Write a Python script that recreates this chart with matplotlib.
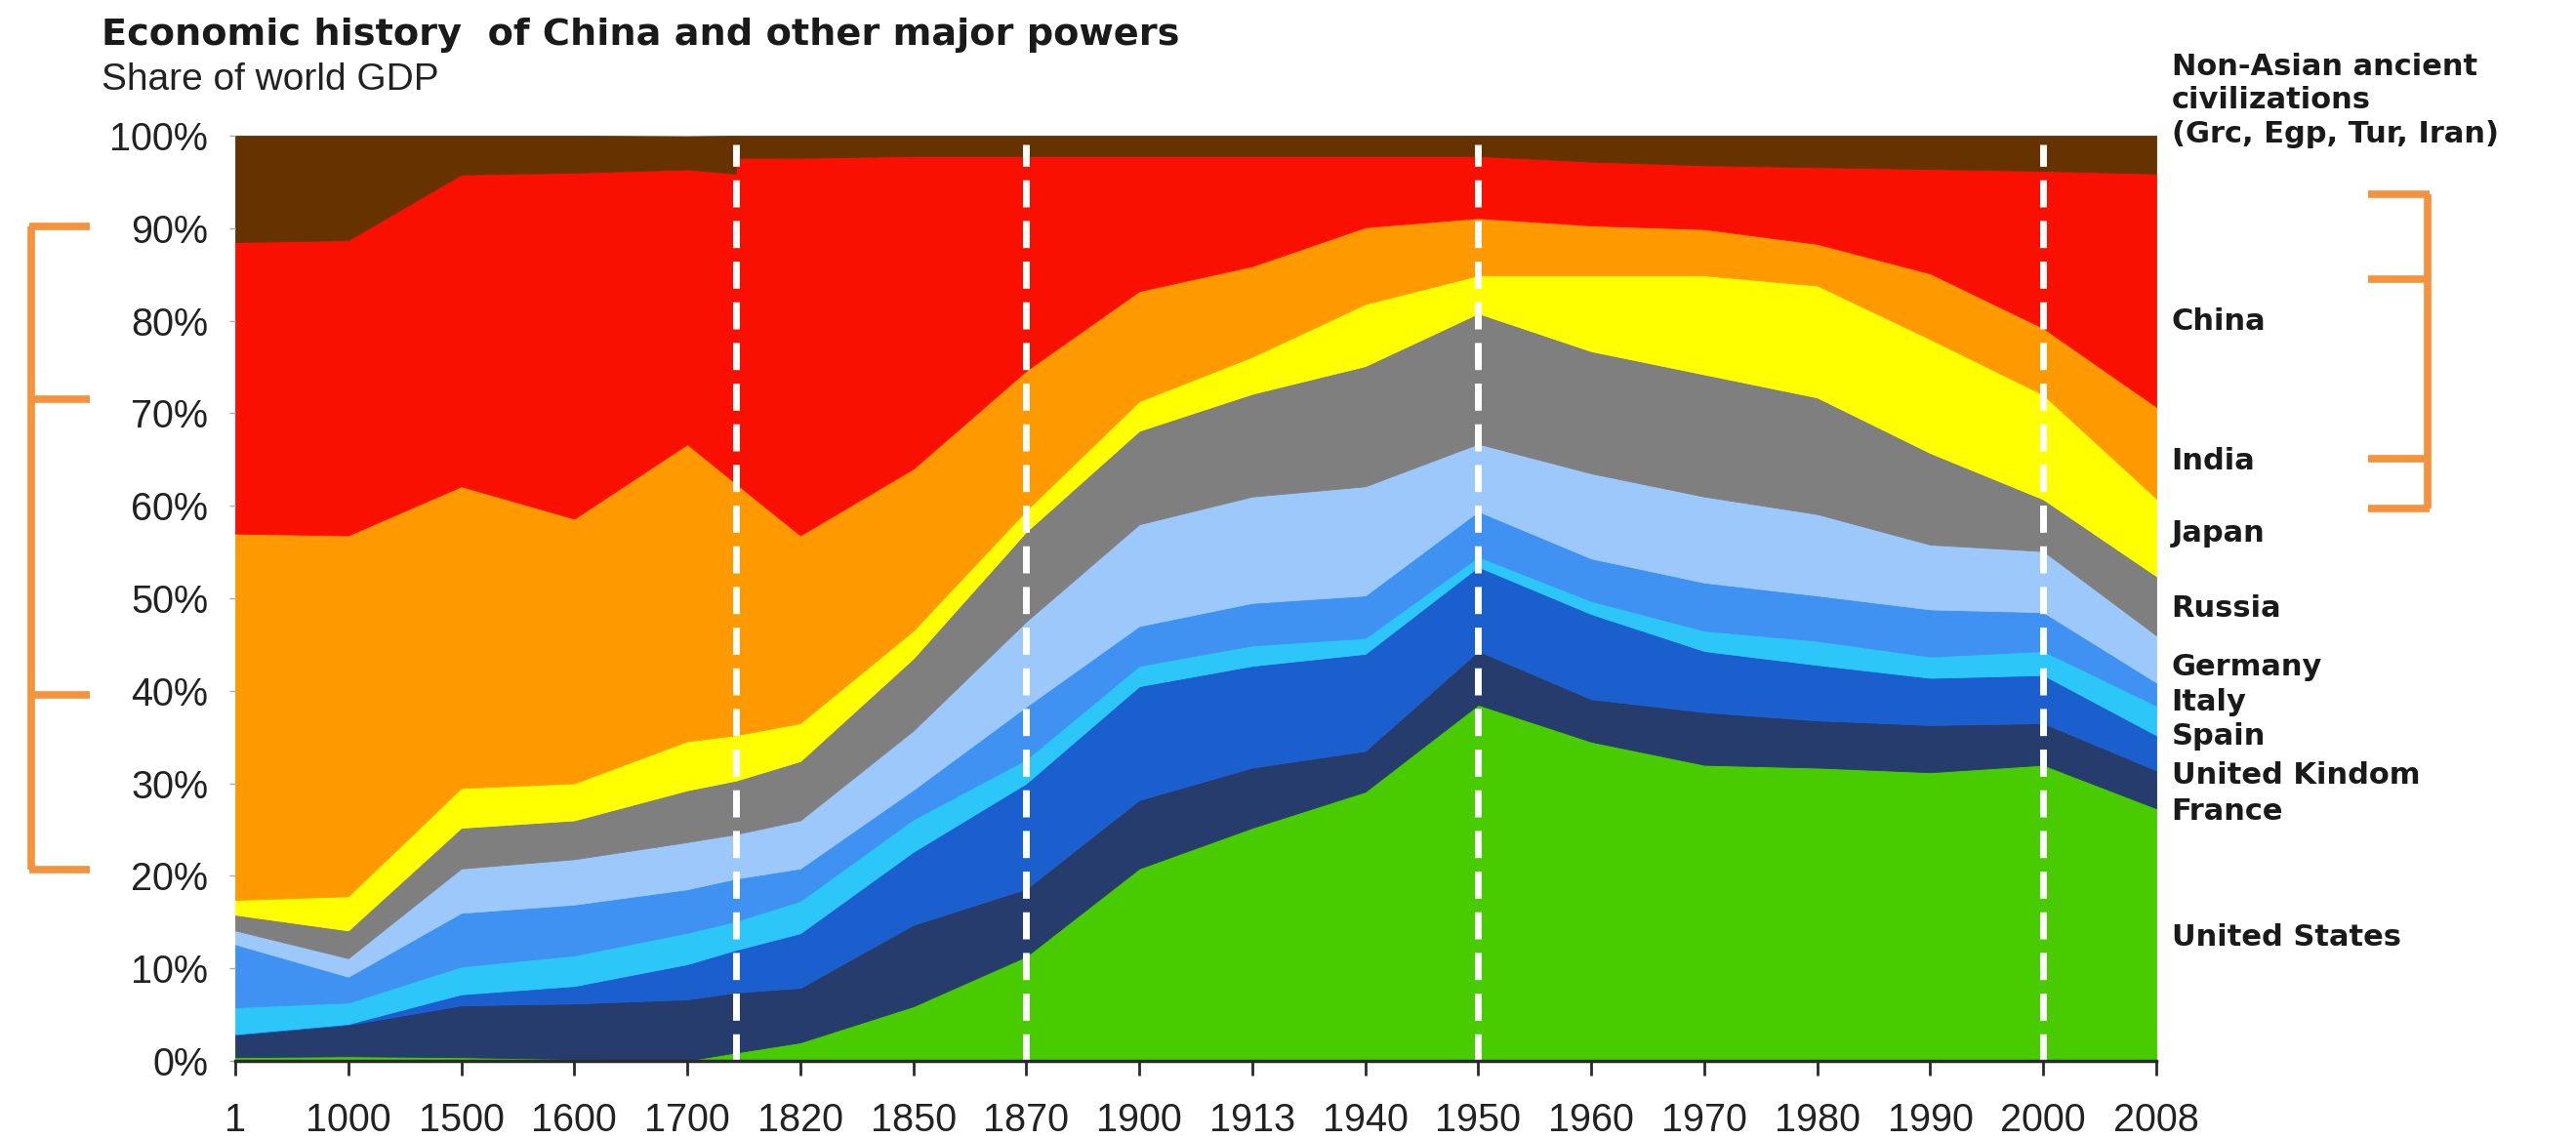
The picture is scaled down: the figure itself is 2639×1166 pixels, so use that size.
import matplotlib
matplotlib.use("Agg")
import matplotlib.pyplot as plt
from matplotlib.lines import Line2D

# ---------------- data ----------------
year_labels = ["1", "1000", "1500", "1600", "1700", "1820", "1850", "1870", "1900",
               "1913", "1940", "1950", "1960", "1970", "1980", "1990", "2000", "2008"]
# sample positions on the categorical year axis (4.43 = break between 1700 and 1820)
positions = [0, 1, 2, 3, 4, 4.43, 4.43, 5, 6, 7, 8, 9, 10, 11, 12, 13, 14, 15, 16, 17]

united_states = [0.4, 0.5, 0.4, 0.2, 0.05, 0.9, 0.9, 2.0, 5.9, 11.3, 20.8, 25.2, 29.1, 38.5, 34.5, 32.0, 31.7, 31.2, 32.0, 27.3]
france        = [2.4, 3.4, 5.6, 6.0, 6.6, 6.5, 6.5, 5.9, 8.8, 7.3, 7.4, 6.5, 4.4, 5.8, 4.6, 5.7, 5.1, 5.1, 4.5, 4.1]
united_kingdom = [0.1, 0.1, 1.2, 1.9, 3.8, 4.6, 4.6, 5.9, 7.9, 11.4, 12.3, 11.0, 10.5, 9.1, 9.2, 6.6, 6.0, 5.1, 5.2, 3.8]
spain         = [2.9, 2.3, 3.0, 3.3, 3.4, 3.1, 3.1, 3.5, 3.5, 2.6, 2.2, 2.2, 1.7, 1.1, 1.4, 2.2, 2.6, 2.3, 2.6, 3.2]
italy         = [6.8, 2.8, 5.8, 5.5, 4.7, 4.6, 4.6, 3.5, 3.2, 5.7, 4.3, 4.6, 4.6, 4.9, 4.6, 5.2, 4.9, 5.1, 4.2, 2.5]
germany       = [1.5, 2.0, 4.8, 4.9, 5.1, 4.8, 4.8, 5.2, 6.4, 9.2, 11.0, 11.5, 11.8, 7.3, 9.2, 9.3, 8.8, 7.0, 6.6, 5.1]
russia        = [1.7, 3.0, 4.4, 4.2, 5.6, 5.8, 5.8, 6.4, 7.8, 9.7, 10.1, 11.1, 13.0, 14.1, 13.2, 13.2, 12.6, 9.9, 5.6, 6.4]
japan         = [1.6, 3.7, 4.3, 4.0, 5.3, 4.9, 4.9, 4.1, 3.0, 2.3, 3.2, 4.0, 6.7, 4.1, 8.2, 10.7, 12.1, 12.3, 11.3, 8.4]
india         = [39.6, 39.0, 32.6, 28.6, 32.1, 27.2, 27.2, 20.3, 17.5, 15.1, 11.9, 9.8, 8.3, 6.2, 5.4, 5.0, 4.5, 7.1, 7.2, 9.9]
china         = [31.5, 31.9, 33.7, 37.4, 29.7, 33.5, 35.2, 40.8, 33.8, 23.2, 14.6, 11.9, 7.7, 6.7, 6.9, 6.9, 8.3, 11.3, 17.0, 25.2]
non_asian_ancient = [11.5, 11.3, 4.2, 4.0, 3.6, 4.1, 2.4, 2.4, 2.2, 2.2, 2.2, 2.2, 2.2, 2.2, 2.8, 3.2, 3.4, 3.6, 3.8, 4.1]

series_labels = ["United States", "France", "United Kindom", "Spain", "Italy", "Germany",
                 "Russia", "Japan", "India", "China", "Non-Asian ancient\ncivilizations\n(Grc, Egp, Tur, Iran)"]

# ---------------- style / layout ----------------
colors = ["#48cc00", "#253c6c", "#1b5fcf", "#2cc6f8", "#3f91f2", "#9dc8fb",
          "#7f7f7f", "#ffff00", "#ff9900", "#fa1000", "#663300"]
# y-positions (in % units) of the right-hand labels
label_y = [13.3, 27.0, 30.9, 35.1, 38.8, 42.6, 48.9, 57.0, 64.8, 79.9, 103.8]
break_lines = [4.43, 7, 11, 16]
bracket_color = "#f5923e"

W, H = 2639, 1166
fig = plt.figure(figsize=(W / 100, H / 100), dpi=100)
fig.patch.set_facecolor("white")
ax = fig.add_axes([241 / W, (H - 1087) / H, 1968 / W, 948 / H])

series = [united_states, france, united_kingdom, spain, italy, germany,
          russia, japan, india, china, non_asian_ancient]
polys = ax.stackplot(positions, *series, colors=colors, linewidth=0)
for p, c in zip(polys, colors):
    p.set_edgecolor(c)
    p.set_linewidth(0.6)

for bx in break_lines:
    ax.axvline(bx, ymin=0, ymax=0.99, color="white", lw=5, dashes=(4, 2), zorder=5)

ax.set_xlim(0, 17)
ax.set_ylim(0, 100)
ax.set_xticks(range(len(year_labels)))
ax.set_xticklabels(year_labels)
ax.set_yticks(range(0, 101, 10))
ax.set_yticklabels([f"{v}%" for v in range(0, 101, 10)])

for s in ["top", "right", "left"]:
    ax.spines[s].set_visible(False)
ax.spines["bottom"].set_color("#2a2a2a")
ax.spines["bottom"].set_linewidth(2.5)
ax.spines["bottom"].set_zorder(6)
ax.tick_params(axis="x", direction="out", length=11, width=2, color="#2a2a2a",
               pad=19, labelsize=28.5, labelcolor="#222222")
ax.tick_params(axis="y", direction="out", length=4, width=1, color="#aaaaaa",
               pad=16, labelsize=28.5, labelcolor="#222222")
for t in ax.get_xticklabels() + ax.get_yticklabels():
    t.set_family("Liberation Sans")

# titles
fig.text(104 / W, 1 - 46 / H, "Economic history  of China and other major powers",
         fontsize=27.5, fontweight="bold", family="DejaVu Sans", color="#1a1a1a",
         va="baseline", ha="left")
fig.text(104 / W, 1 - 92 / H, "Share of world GDP", fontsize=28,
         family="Liberation Sans", color="#222222", va="baseline", ha="left")

# right-hand labels
tr = ax.get_yaxis_transform()
for lab, yv in zip(series_labels, label_y):
    ax.text(1.008, yv, lab, transform=tr, fontsize=22, fontweight="bold",
            family="DejaVu Sans", color="#1a1a1a", va="center", ha="left",
            linespacing=1.25, clip_on=False)

# orange brackets (figure pixel coordinates)
def fline(xs, ys):
    fig.add_artist(Line2D([x / W for x in xs], [1 - y / H for y in ys],
                          color=bracket_color, lw=5.5, solid_capstyle="butt",
                          solid_joinstyle="miter", transform=fig.transFigure))

fline([32, 32], [232, 891])
for yy in [232, 409, 712, 891]:
    fline([30, 92], [yy, yy])

fline([2487, 2487], [199, 521])
for yy in [199, 286, 470, 521]:
    fline([2426, 2489], [yy, yy])

fig.savefig("out.png", dpi=100, facecolor="white")
